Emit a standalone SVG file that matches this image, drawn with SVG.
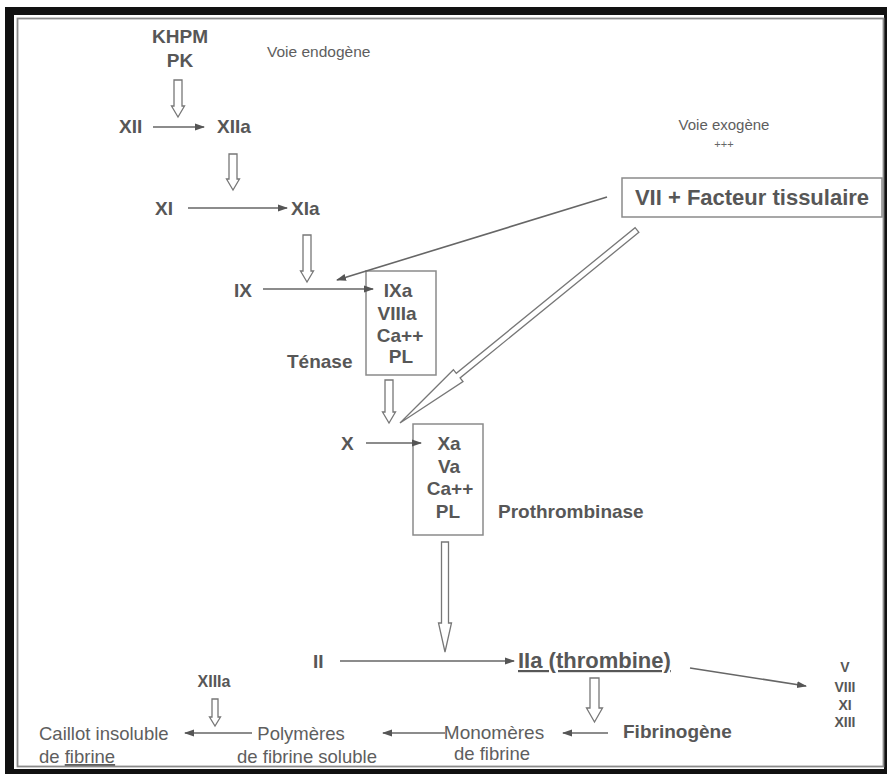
<svg xmlns="http://www.w3.org/2000/svg" width="887" height="774" viewBox="0 0 887 774">
<defs>
<style>
.b{font-family:"Liberation Sans",Arial,sans-serif;font-weight:bold;fill:#575757;font-size:19px}
.r{font-family:"Liberation Sans",Arial,sans-serif;fill:#5e5e5e;font-size:18.5px}
.s{font-family:"Liberation Sans",Arial,sans-serif;fill:#666;font-size:14px}
.ln{stroke:#666;stroke-width:1.6;fill:none}
.ho{stroke:#777;stroke-width:1.3;fill:#fff}
.box{stroke:#8a8a8a;stroke-width:1.5;fill:#fff}
</style>
<marker id="ah" markerUnits="userSpaceOnUse" markerWidth="10" markerHeight="8" refX="9" refY="4" orient="auto">
<path d="M0,0.5 L10,4 L0,7.5 Z" fill="#555"/>
</marker>
</defs>
<g id="frame">
<rect x="5" y="7" width="882" height="767" fill="#111"/>
<rect x="14" y="15" width="870" height="754" fill="#fff"/>
<rect x="17.5" y="18.5" width="866" height="748" fill="none" stroke="#8a8a8a" stroke-width="1.8"/>
</g>
<g id="khpm"><text class="b" x="180" y="43" text-anchor="middle">KHPM</text><text class="b" x="180" y="67" text-anchor="middle">PK</text></g>
<g id="voie-endogene"><text class="r" x="267" y="57" style="font-size:15.5px">Voie endogène</text></g>
<g id="xii"><text class="b" x="119" y="133">XII</text></g>
<g id="xiia"><text class="b" x="217" y="133">XIIa</text></g>
<g id="xi"><text class="b" x="155" y="215">XI</text></g>
<g id="xia"><text class="b" x="291" y="215">XIa</text></g>
<g id="ix"><text class="b" x="234" y="297">IX</text></g>
<g id="tenase">
<rect class="box" x="366" y="271" width="70" height="104"/>
<text class="b" x="398" y="297" text-anchor="middle">IXa</text>
<text class="b" x="397" y="320" text-anchor="middle">VIIIa</text>
<text class="b" x="400" y="342" text-anchor="middle">Ca++</text>
<text class="b" x="401" y="363" text-anchor="middle">PL</text>
</g>
<g id="tenase-label"><text class="b" x="287" y="368">Ténase</text></g>
<g id="voie-exogene"><text class="r" x="724" y="130" text-anchor="middle" style="font-size:15px">Voie exogène</text><text class="s" x="724" y="148" text-anchor="middle" style="font-size:11px">+++</text></g>
<g id="vii-ft">
<rect class="box" x="622" y="178" width="260" height="39"/>
<text class="b" x="752" y="205" text-anchor="middle" style="font-size:22px">VII + Facteur tissulaire</text>
</g>
<g id="x"><text class="b" x="341" y="450">X</text></g>
<g id="prothrombinase">
<rect class="box" x="413" y="424" width="70" height="111"/>
<text class="b" x="449" y="450" text-anchor="middle">Xa</text>
<text class="b" x="449" y="473" text-anchor="middle">Va</text>
<text class="b" x="450" y="495" text-anchor="middle">Ca++</text>
<text class="b" x="448" y="518" text-anchor="middle">PL</text>
</g>
<g id="prothrombinase-label"><text class="b" x="498" y="518">Prothrombinase</text></g>
<g id="ii"><text class="b" x="313" y="668">II</text></g>
<g id="iia"><text class="b" x="518" y="668" style="font-size:22px;text-decoration:underline">IIa (thrombine)</text></g>
<g id="facteurs">
<text class="b" x="845" y="672" text-anchor="middle" style="font-size:14px">V</text>
<text class="b" x="845" y="692" text-anchor="middle" style="font-size:14px">VIII</text>
<text class="b" x="845" y="710" text-anchor="middle" style="font-size:14px">XI</text>
<text class="b" x="845" y="727" text-anchor="middle" style="font-size:14px">XIII</text>
</g>
<g id="fibrinogene"><text class="b" x="623" y="738">Fibrinogène</text></g>
<g id="monomeres"><text class="r" x="494" y="739" text-anchor="middle" style="font-size:19px">Monomères</text><text class="r" x="492" y="760" text-anchor="middle">de fibrine</text></g>
<g id="polymeres"><text class="r" x="301" y="740" text-anchor="middle">Polymères</text><text class="r" x="307" y="763" text-anchor="middle">de fibrine soluble</text></g>
<g id="xiiia"><text class="b" x="214" y="687" text-anchor="middle" style="font-size:16px">XIIIa</text></g>
<g id="caillot"><text class="r" x="39" y="740">Caillot insoluble</text><text class="r" x="39" y="763">de <tspan style="text-decoration:underline">fibrine</tspan></text></g>
<g id="connectors">
<line class="ln" x1="153" y1="127" x2="204" y2="127" marker-end="url(#ah)"/>
<line class="ln" x1="188" y1="208" x2="287" y2="208" marker-end="url(#ah)"/>
<line class="ln" x1="263" y1="289" x2="373" y2="289" marker-end="url(#ah)"/>
<line class="ln" x1="607" y1="197" x2="337" y2="280" marker-end="url(#ah)"/>
<line class="ln" x1="366" y1="443" x2="421" y2="443" marker-end="url(#ah)"/>
<line class="ln" x1="340" y1="661" x2="514" y2="661" marker-end="url(#ah)"/>
<line class="ln" x1="690" y1="668" x2="806" y2="686" marker-end="url(#ah)"/>
<line class="ln" x1="608" y1="733" x2="563" y2="733" marker-end="url(#ah)"/>
<line class="ln" x1="445" y1="733" x2="383" y2="733" marker-end="url(#ah)"/>
<line class="ln" x1="252" y1="733" x2="185" y2="733" marker-end="url(#ah)"/>
<path class="ho" d="M174,80 H182 V106 H184.5 L178,117 L171.5,106 H174 Z"/>
<path class="ho" d="M229,154 H237 V179 H239.5 L233,190 L226.5,179 H229 Z"/>
<path class="ho" d="M303,235 H311 V271 H313.5 L307,282 L300.5,271 H303 Z"/>
<path class="ho" d="M385,380 H393 V412 H395.5 L389,423 L382.5,412 H385 Z"/>
<path class="ho" d="M441.5,542 H448.5 V623 H451.5 L445,652 L438.5,623 H441.5 Z"/>
<path class="ho" d="M590,678 H599 V708 H602.5 L594.5,722 L586.5,708 H590 Z"/>
<path class="ho" d="M212,699 H218 V717 H220.5 L215,726 L209.5,717 H212 Z"/>
<path class="ho" d="M638.9,232.3 L460.1,377.9 L463,381.5 L400,423 L453.4,369.7 L456.3,373.3 L635.1,227.7 Z"/>
</g>
</svg>
